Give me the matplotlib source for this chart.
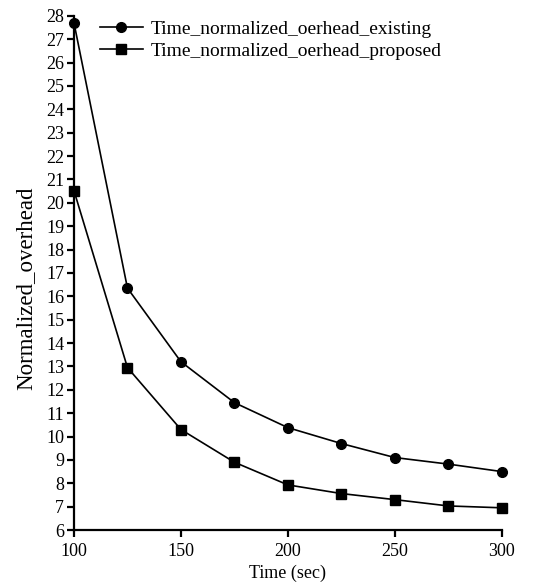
import matplotlib
matplotlib.use("Agg")
import matplotlib.pyplot as plt

plt.rcParams['font.family'] = ['Liberation Serif', 'DejaVu Serif']

time_sec = [100, 125, 150, 175, 200, 225, 250, 275, 300]
existing = [27.7, 16.35, 13.2, 11.45, 10.38, 9.7, 9.1, 8.82, 8.5]
proposed = [20.52, 12.95, 10.3, 8.9, 7.93, 7.56, 7.3, 7.03, 6.95]
x_ticks = [100, 150, 200, 250, 300]
y_ticks = list(range(6, 29))

fig = plt.figure(figsize=(5.52, 5.85), dpi=100)
ax = fig.add_axes([0.134, 0.094, 0.775, 0.879])

ax.plot(time_sec, existing, color='black', lw=1.2, marker='o', ms=7,
        label='Time_normalized_oerhead_existing', clip_on=False, zorder=3)
ax.plot(time_sec, proposed, color='black', lw=1.2, marker='s', ms=7,
        label='Time_normalized_oerhead_proposed', clip_on=False, zorder=3)

ax.set_xlim(100, 300)
ax.set_ylim(6, 28)
ax.set_xticks(x_ticks)
ax.set_yticks(y_ticks)
ax.spines['top'].set_visible(False)
ax.spines['right'].set_visible(False)
for s in ('left', 'bottom'):
    ax.spines[s].set_linewidth(1.6)
ax.tick_params(direction='out', width=1.6, length=5, labelsize=13, pad=2)
ax.tick_params(axis='x', pad=4)

ax.set_xlabel('Time (sec)', fontsize=13, labelpad=4)
ax.set_ylabel('Normalized_overhead', fontsize=16.5)
ax.yaxis.set_label_coords(-0.088, 0.47)

ax.legend(loc='upper left', bbox_to_anchor=(0.02, 1.026), frameon=False,
          fontsize=14, handlelength=2.2, handletextpad=0.4, labelspacing=0.25)

fig.savefig('out.png', dpi=100)
